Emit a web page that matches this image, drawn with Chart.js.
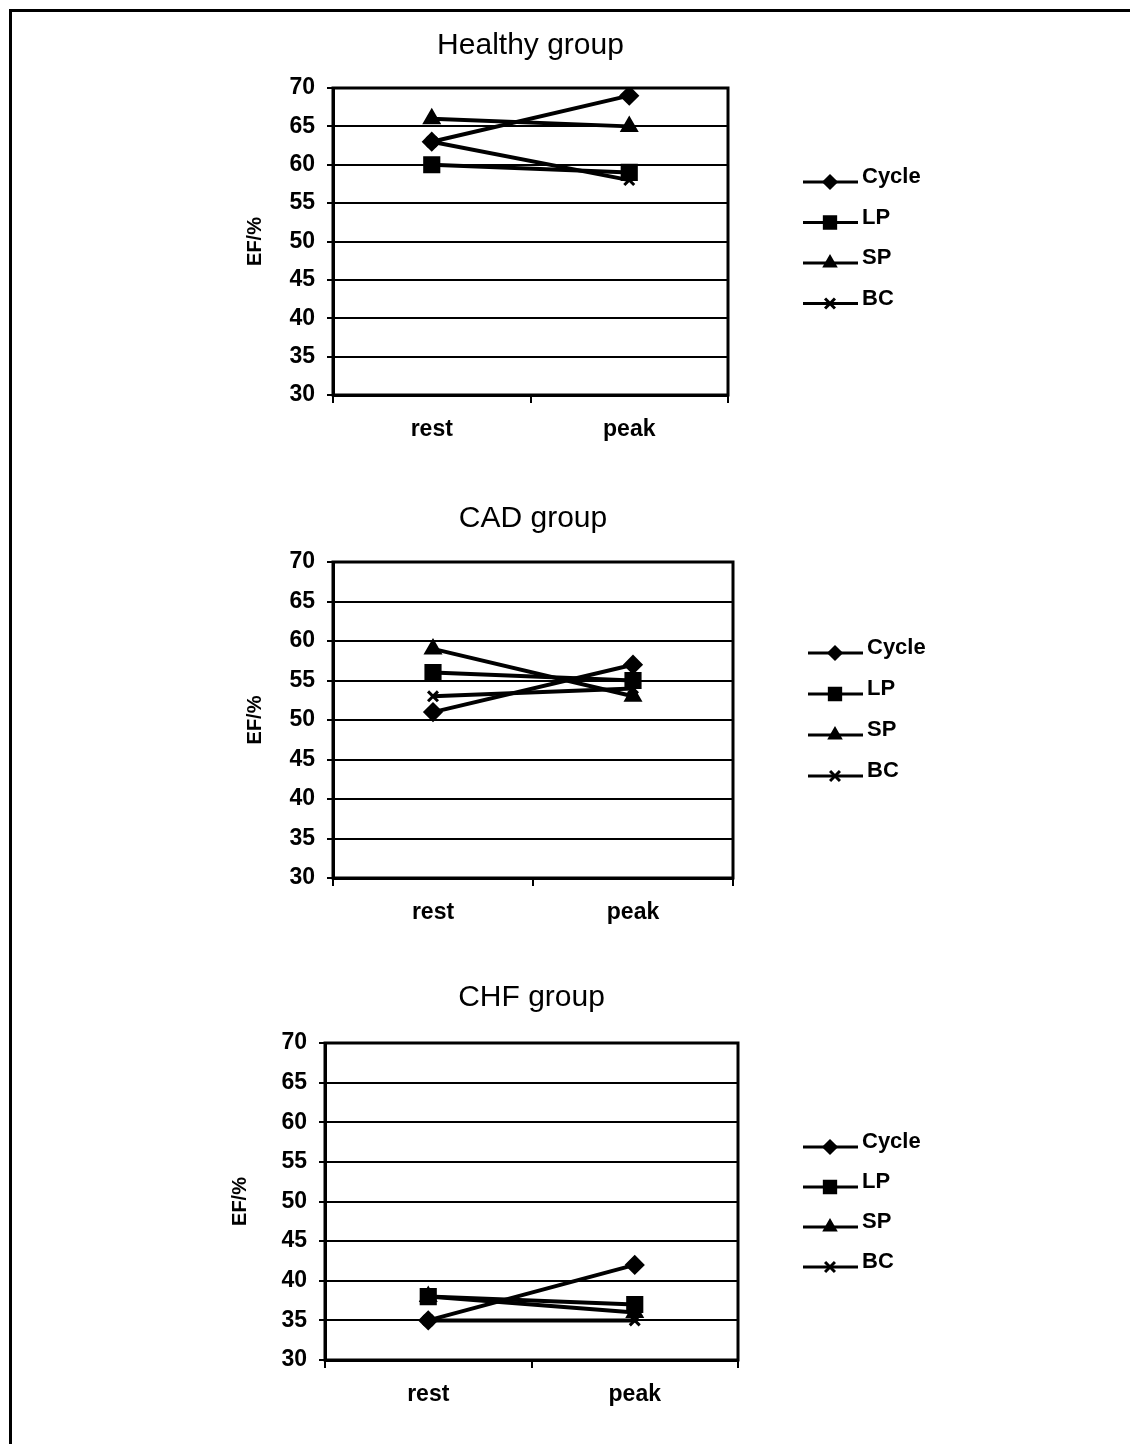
<!DOCTYPE html>
<html>
<head>
<meta charset="utf-8">
<script src="https://cdn.jsdelivr.net/npm/chart.js@4.4.1/dist/chart.umd.min.js"></script>
<style>
  body { margin: 0; background: #fff; }
  #page { position: relative; width: 1130px; height: 1445px; overflow: hidden; background: #fff; }
  #frame { position: absolute; left: 9px; top: 9px; width: 1130px; height: 1432px; border-top: 3px solid #000; border-left: 3px solid #000; }
  .box { position: absolute; left: 0; width: 1130px; }
  canvas { display: block; }
</style>
</head>
<body>
<div id="page">
  <div id="frame"></div>
  <div class="box" style="top:0px"><canvas id="c1" width="1130" height="470"></canvas></div>
  <div class="box" style="top:470px"><canvas id="c2" width="1130" height="480"></canvas></div>
  <div class="box" style="top:950px"><canvas id="c3" width="1130" height="495"></canvas></div>
</div>
<script>
// données (EF en %)
const categories = ['rest', 'peak'];
const seriesNames = ['Cycle', 'LP', 'SP', 'BC'];
const yMin = 30, yMax = 70, yStep = 5;

const healthyCycle = [63, 69];
const healthyLP = [60, 59];
const healthySP = [66, 65];
const healthyBC = [63, 58];

const cadCycle = [51, 57];
const cadLP = [56, 55];
const cadSP = [59, 53];
const cadBC = [53, 54];

const chfCycle = [35, 42];
const chfLP = [38, 37];
const chfSP = [38, 36];
const chfBC = [35, 35];

const FONT = "'Liberation Sans', Arial, sans-serif";
const styles = [
  { pointStyle: 'rectRot', radius: 8 },
  { pointStyle: 'rect', radius: 10 },
  { pointStyle: 'triangle', radius: 8 },
  { pointStyle: 'crossRot', radius: 7 }
];

// rectangle autour de la zone de tracé
const cadre = {
  id: 'cadre',
  afterDraw(chart) {
    const a = chart.chartArea, ctx = chart.ctx;
    ctx.save();
    ctx.strokeStyle = '#000';
    ctx.lineWidth = 3;
    ctx.strokeRect(a.left, a.top, a.right - a.left, a.bottom - a.top);
    ctx.restore();
  }
};

// légende dessinée à la main: trait + marqueur + nom
const legende = {
  id: 'legende',
  afterDraw(chart, args, opts) {
    const ctx = chart.ctx;
    ctx.save();
    chart.data.datasets.forEach((ds, i) => {
      const y = opts.y + i * opts.gap;
      ctx.strokeStyle = '#000';
      ctx.fillStyle = '#000';
      ctx.lineWidth = 3;
      ctx.beginPath();
      ctx.moveTo(opts.x, y);
      ctx.lineTo(opts.x + 55, y);
      ctx.stroke();
      let r = 6;
      if (ds.pointStyle === 'rect') r = 8;
      if (ds.pointStyle === 'crossRot') r = 7;
      Chart.helpers.drawPoint(ctx, {
        pointStyle: ds.pointStyle,
        radius: r,
        rotation: 0,
        borderWidth: 3
      }, opts.x + 27, y);
      ctx.font = 'bold 22px ' + FONT;
      ctx.textBaseline = 'alphabetic';
      ctx.textAlign = 'left';
      ctx.fillText(ds.label, opts.x + 59, y + 1);
    });
    ctx.restore();
  }
};

function makeChart(id, title, values, lay) {
  const datasets = values.map((v, i) => ({
    label: seriesNames[i],
    data: v,
    borderColor: '#000',
    backgroundColor: '#000',
    borderWidth: 4,
    pointStyle: styles[i].pointStyle,
    pointRadius: styles[i].radius,
    pointBorderWidth: 3,
    tension: 0
  }));
  const canvasH = document.getElementById(id).height;
  new Chart(document.getElementById(id), {
    type: 'line',
    data: { labels: categories, datasets: datasets },
    options: {
      responsive: false,
      animation: false,
      layout: {
        padding: {
          left: lay.axisLeft,
          right: 1130 - lay.right,
          top: 0,
          bottom: canvasH - lay.bottom - 55
        }
      },
      plugins: {
        legend: { display: false },
        tooltip: { enabled: false },
        title: {
          display: true,
          text: title,
          fullSize: false,
          color: '#000',
          font: { family: FONT, size: 30, weight: 'normal' },
          padding: { top: lay.titleY - 16, bottom: lay.top - lay.titleY - 20 }
        },
        legende: { x: lay.legX, y: lay.legY, gap: lay.legGap }
      },
      scales: {
        x: {
          offset: true,
          afterFit: s => { s.height = 55; },
          grid: { drawOnChartArea: false, offset: true, color: '#000', lineWidth: 2, tickLength: 8 },
          border: { color: '#000', width: 3 },
          ticks: { color: '#000', padding: 13, font: { family: FONT, size: 23, weight: 'bold' } }
        },
        y: {
          min: yMin,
          max: yMax,
          afterFit: s => { s.width = lay.left - lay.axisLeft; },
          grid: { color: '#000', lineWidth: 2, tickLength: 6 },
          border: { color: '#000', width: 3 },
          ticks: { stepSize: yStep, color: '#000', padding: 12, font: { family: FONT, size: 23, weight: 'bold' } },
          title: { display: true, text: 'EF/%', color: '#000', font: { family: FONT, size: 20, weight: 'bold' } }
        }
      }
    },
    plugins: [cadre, legende]
  });
}

makeChart('c1', 'Healthy group', [healthyCycle, healthyLP, healthySP, healthyBC],
  { left: 333, right: 728, top: 88, bottom: 395, axisLeft: 239, titleY: 44, legX: 803, legY: 182, legGap: 40.5 });
makeChart('c2', 'CAD group', [cadCycle, cadLP, cadSP, cadBC],
  { left: 333, right: 733, top: 92, bottom: 408, axisLeft: 239, titleY: 47, legX: 808, legY: 183, legGap: 41 });
makeChart('c3', 'CHF group', [chfCycle, chfLP, chfSP, chfBC],
  { left: 325, right: 738, top: 93, bottom: 410, axisLeft: 224, titleY: 46, legX: 803, legY: 197, legGap: 40 });
</script>
</body>
</html>
